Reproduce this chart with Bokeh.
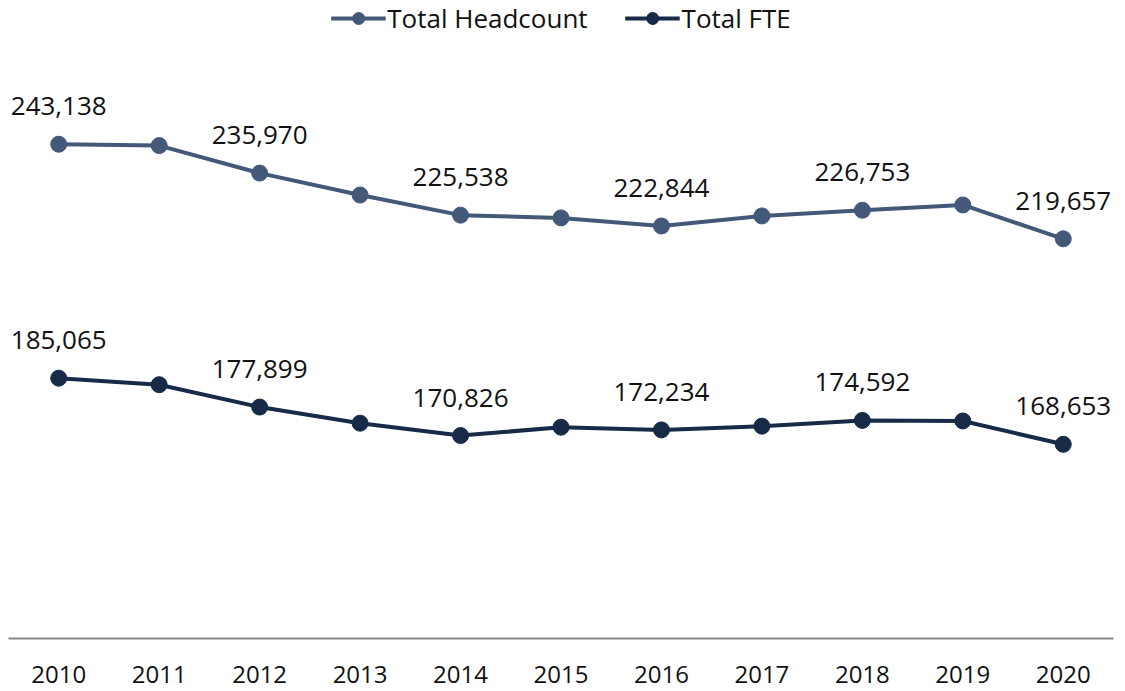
from bokeh.plotting import figure
from bokeh.models import Range1d, FixedTicker, ColumnDataSource, Legend
from bokeh.core.properties import value
from bokeh.embed import file_html
from bokeh.resources import INLINE

years = [2010, 2011, 2012, 2013, 2014, 2015, 2016, 2017, 2018, 2019, 2020]
headcount = [243138, 242800, 235970, 230530, 225538, 224850, 222844, 225340, 226753, 228060, 219657]
fte = [185065, 183450, 177899, 173900, 170826, 172900, 172234, 173160, 174592, 174450, 168653]
label_years = [2010, 2012, 2014, 2016, 2018, 2020]

C_HEAD = "#44587a"
C_FTE = "#172a47"
FONT = "Open Sans"

p = figure(frame_width=1105, frame_height=638, output_backend="svg", toolbar_location=None,
           x_range=Range1d(2009.5, 2020.5), y_range=Range1d(120458, 278810),
           y_axis_location=None, min_border_left=8, min_border_right=4,
           min_border_top=0, min_border_bottom=50, outline_line_color=None)
p.xgrid.grid_line_color = None
p.ygrid.grid_line_color = None

src = ColumnDataSource(dict(x=years, h=headcount, f=fte))
l1 = p.line("x", "h", source=src, line_color=C_HEAD, line_width=4)
s1 = p.scatter("x", "h", source=src, size=16, fill_color=C_HEAD, line_color=C_HEAD)
l2 = p.line("x", "f", source=src, line_color=C_FTE, line_width=4)
s2 = p.scatter("x", "f", source=src, size=16, fill_color=C_FTE, line_color=C_FTE)

for vals in (headcount, fte):
    lx = [y for y in years if y in label_years]
    ly = [v for y, v in zip(years, vals) if y in label_years]
    lt = [f"{v:,}" for v in ly]
    p.text(x=lx, y=ly, text=lt, text_align="center", text_baseline="alphabetic",
           y_offset=-38, text_font=value(FONT), text_font_size="26px", text_color="#111111")

legend = Legend(items=[("Total Headcount", [l1, s1]), ("Total FTE", [l2, s2])],
                orientation="horizontal", location="top_center",
                label_text_font=FONT, label_text_font_size="26px", label_text_color="#111111",
                glyph_width=55, glyph_height=30, label_standoff=2, spacing=37,
                padding=0, margin=0, border_line_color=None, background_fill_alpha=0)
p.add_layout(legend, "center")

ax = p.xaxis[0]
ax.ticker = FixedTicker(ticks=years)
ax.axis_line_color = "#898989"
ax.axis_line_width = 2
ax.major_tick_line_color = None
ax.minor_tick_line_color = None
ax.major_tick_out = 0
ax.major_label_standoff = 27
ax.major_label_text_font = FONT
ax.major_label_text_font_size = "24px"
ax.major_label_text_color = "#111111"

open("out.html", "w").write(file_html(p, INLINE))
